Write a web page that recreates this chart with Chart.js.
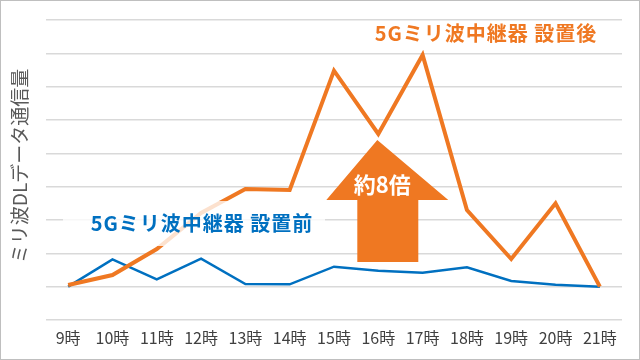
<!DOCTYPE html>
<html><head><meta charset="utf-8">
<script src="https://cdn.jsdelivr.net/npm/chart.js@4.4.1/dist/chart.umd.min.js"></script>
<style>html,body{margin:0;padding:0;background:#fff}#wrap{width:640px;height:360px;position:relative}</style>
</head><body><div id="wrap"><canvas id="c" width="640" height="360"></canvas></div>
<script>
const categories = ['9時','10時','11時','12時','13時','14時','15時','16時','17時','18時','19時','20時','21時'];
const beforeValues = [0, 0.82, 0.22, 0.84, 0.08, 0.07, 0.6, 0.48, 0.42, 0.58, 0.17, 0.06, 0];
const afterValues = [0.05, 0.35, 1.13, 2.21, 2.93, 2.9, 6.48, 4.58, 6.95, 2.3, 0.83, 2.5, 0];
const seriesNames = ['5Gミリ波中継器 設置後', '5Gミリ波中継器 設置前'];
const yTitle = 'ミリ波DLデータ通信量';
const multiplierLabel = '約8倍';

const ORANGE = '#EF7822';
const BLUE = '#0070C0';
const FONT = '"Noto Sans CJK JP", "Noto Sans", sans-serif';

const deco = {
  id: 'deco',
  afterDatasetsDraw(chart) {
    const ctx = chart.ctx;
    const xs = chart.scales.x;
    ctx.save();
    ctx.textAlign = 'center';
    ctx.textBaseline = 'middle';
    // semi-transparent label box for "before"
    ctx.fillStyle = 'rgba(255,255,255,0.78)';
    ctx.fillRect(63, 201, 262, 45);
    ctx.fillStyle = BLUE;
    ctx.font = 'bold 20px ' + FONT;
    ctx.letterSpacing = '1px';
    ctx.fillText(seriesNames[1], 202, 223);
    // after label
    ctx.fillStyle = ORANGE;
    ctx.fillText(seriesNames[0], 486, 33);
    ctx.letterSpacing = '0px';
    // arrow
    const cx = xs.getPixelForValue(7);
    ctx.fillStyle = ORANGE;
    ctx.beginPath();
    ctx.moveTo(cx - 1, 140);
    ctx.lineTo(cx + 70, 200);
    ctx.lineTo(cx + 40, 200);
    ctx.lineTo(cx + 40, 262);
    ctx.lineTo(cx - 21, 262);
    ctx.lineTo(cx - 21, 200);
    ctx.lineTo(cx - 52, 200);
    ctx.closePath();
    ctx.fill();
    ctx.fillStyle = '#fff';
    ctx.font = 'bold 22px ' + FONT;
    ctx.fillText(multiplierLabel, cx + 4, 185);
    // y title
    ctx.save();
    ctx.translate(20, 166);
    ctx.rotate(-Math.PI / 2);
    ctx.fillStyle = '#595959';
    ctx.font = '19px ' + FONT;
    ctx.fillText(yTitle, 0, 0);
    ctx.restore();
    // border
    ctx.strokeStyle = '#bfbfbf';
    ctx.lineWidth = 1;
    ctx.strokeRect(0.5, 0.5, 639, 359);
    ctx.restore();
  }
};

new Chart(document.getElementById('c'), {
  type: 'line',
  data: {
    labels: categories,
    datasets: [
      { label: seriesNames[0], data: afterValues, borderColor: ORANGE, borderWidth: 4, pointRadius: 0, tension: 0, order: 0 },
      { label: seriesNames[1], data: beforeValues, borderColor: BLUE, borderWidth: 2.5, pointRadius: 0, tension: 0, order: 1 }
    ]
  },
  options: {
    responsive: false,
    animation: false,
    layout: { padding: { left: 46, right: 18, top: 20, bottom: 0 } },
    plugins: { legend: { display: false }, tooltip: { enabled: false } },
    scales: {
      x: {
        offset: true,
        grid: { display: false, drawTicks: false },
        border: { display: false },
        ticks: { color: '#404040', font: { family: FONT, size: 16 }, padding: 8, maxRotation: 0, autoSkip: false },
        afterFit(scale) { scale.height = 40; }
      },
      y: {
        min: -1, max: 8,
        grid: { color: '#d9d9d9', lineWidth: 1.5, drawTicks: false },
        border: { display: false },
        ticks: { display: false, stepSize: 1 }
      }
    }
  },
  plugins: [deco]
});
</script></body></html>
